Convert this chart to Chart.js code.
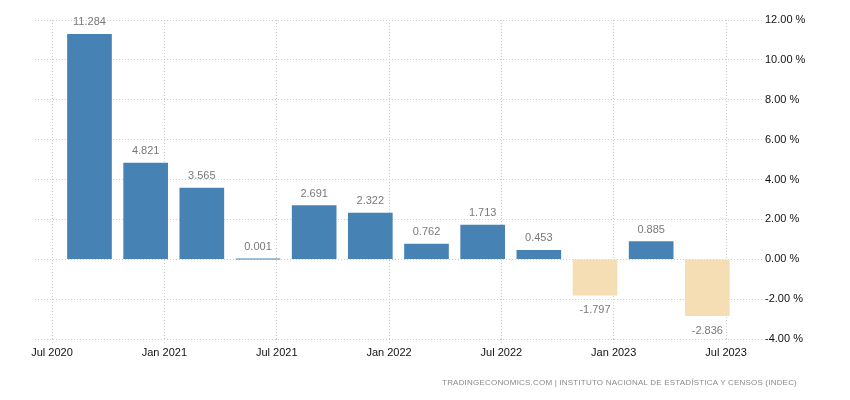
<!DOCTYPE html>
<html>
<head>
<meta charset="utf-8">
<script src="https://cdn.jsdelivr.net/npm/chart.js@4"></script>
<style>
  body { margin: 0; background: #fff; }
  #wrap { position: relative; width: 850px; height: 400px; }
  #src {
    position: absolute; right: 53px; top: 378px;
    font: 8px "Liberation Sans", Arial, sans-serif; color: #8a8a8a; letter-spacing: 0.2px;
    white-space: nowrap;
  }
</style>
</head>
<body>
<div id="wrap">
  <canvas id="myChart" width="850" height="400"></canvas>
  <div id="src">TRADINGECONOMICS.COM | INSTITUTO NACIONAL DE ESTADÍSTICA Y CENSOS (INDEC)</div>
</div>
<script>
// quarterly GDP growth (% q/q), Argentina
const quarters = ['2020-09', '2020-12', '2021-03', '2021-06', '2021-09', '2021-12',
                  '2022-03', '2022-06', '2022-09', '2022-12', '2023-03', '2023-06'];
const growth = [11.284, 4.821, 3.565, 0.001, 2.691, 2.322, 0.762, 1.713, 0.453, -1.797, 0.885, -2.836];
const tickLabels = ['Jul 2020', 'Jan 2021', 'Jul 2021', 'Jan 2022', 'Jul 2022', 'Jan 2023', 'Jul 2023'];
const tickDates = ['2020-07', '2021-01', '2021-07', '2022-01', '2022-07', '2023-01', '2023-07'];

// months counted from Jan 2020 (=0)
function toMonth(s) {
    const p = s.split('-');
    return (parseInt(p[0]) - 2020) * 12 + parseInt(p[1]) - 1;
}

const points = [];
for (let i = 0; i < quarters.length; ++i) {
    points.push({ x: toMonth(quarters[i]), y: growth[i] });
}
const tickPos = tickDates.map(toMonth);

const valueLabels = {
    id: 'valueLabels',
    afterDatasetsDraw(chart) {
        const ctx = chart.ctx;
        const meta = chart.getDatasetMeta(0);
        ctx.save();
        ctx.font = '11px "Liberation Sans", Arial, sans-serif';
        ctx.fillStyle = '#7a7a7a';
        ctx.textAlign = 'center';
        ctx.textBaseline = 'middle';
        meta.data.forEach((bar, i) => {
            const v = growth[i];
            const y = v >= 0 ? bar.y - 12 : bar.y + 15;
            ctx.fillText(v.toFixed(3), bar.x, y);
        });
        ctx.restore();
    }
};

const ctx = document.getElementById('myChart').getContext('2d');
const myChart = new Chart(ctx, {
    type: 'bar',
    data: {
        datasets: [{
            data: points,
            backgroundColor: growth.map(v => v >= 0 ? '#4682b4' : '#f5deb3'),
            barThickness: 44,
        }],
    },
    options: {
        responsive: false,
        animation: false,
        layout: { padding: { left: 35, top: 20, right: 0, bottom: 0 } },
        plugins: { legend: { display: false }, tooltip: { enabled: false } },
        scales: {
            x: {
                type: 'linear',
                offset: false,
                min: 5.09,
                max: 43.92,
                afterBuildTicks(axis) {
                    axis.ticks = tickPos.map(v => ({ value: v }));
                },
                afterFit(axis) { axis.height = 61; },
                ticks: {
                    autoSkip: false,
                    maxRotation: 0,
                    padding: 2,
                    color: '#111',
                    font: { family: '"Liberation Sans", Arial, sans-serif', size: 11 },
                    callback: (v) => tickLabels[tickPos.indexOf(v)],
                },
                grid: {
                    offset: false,
                    color: '#cccccc',
                    tickLength: 5,
                    tickColor: '#cccccc',
                    tickBorderDash: [1, 2],
                },
                border: { display: false, dash: [1, 2] },
            },
            y: {
                position: 'right',
                min: -4,
                max: 12,
                afterFit(axis) { axis.width = 88; },
                ticks: {
                    stepSize: 2,
                    padding: 3,
                    color: '#111',
                    font: { family: '"Liberation Sans", Arial, sans-serif', size: 11 },
                    callback: (v) => v.toFixed(2) + ' %',
                },
                grid: { color: '#cccccc', drawTicks: false },
                border: { display: false, dash: [1, 2] },
            },
        },
    },
    plugins: [valueLabels],
});
</script>
</body>
</html>
